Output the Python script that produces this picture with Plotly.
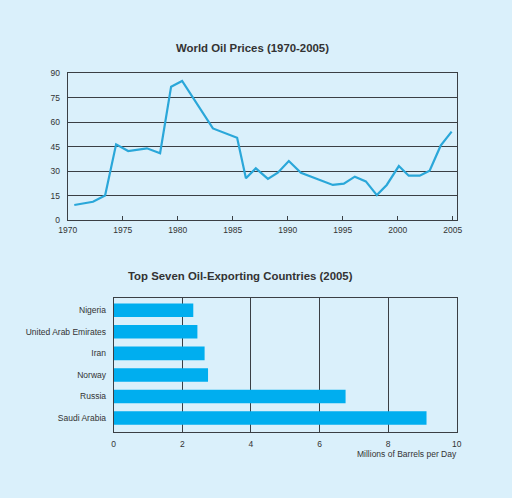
import plotly.graph_objects as go

# World oil prices
anos = [1970.6, 1972.3, 1973.4, 1974.4, 1975.5, 1977.2, 1978.4, 1979.4, 1980.4,
        1983.2, 1985.4, 1986.2, 1987.1, 1988.2, 1989.1, 1990.1, 1991.2, 1992.1,
        1993.2, 1994.1, 1995.1, 1996.1, 1997.1, 1998.1, 1999.0, 2000.1, 2001.0,
        2002.0, 2002.9, 2003.9, 2004.9]
precos = [9.2, 11.2, 15, 46.4, 42.3, 44, 41, 81.8, 85.3,
          56.2, 50.5, 25.6, 31.7, 25.2, 29, 36.2, 29, 26.8,
          23.8, 21.5, 22.3, 26.6, 23.7, 15.3, 21.5, 33.1, 27.2,
          27.2, 30.3, 45.6, 54.2]

# Top oil exporters, bottom to top
paises = ["Saudi Arabia", "Russia", "Norway", "Iran", "United Arab Emirates", "Nigeria"]
barris = [9.12, 6.76, 2.75, 2.65, 2.44, 2.32]

fundo = "#daf0fb"
cinza = "#3a3f44"
texto = "#333333"
fonte = "Liberation Sans, Arial, sans-serif"

fig = go.Figure()

fig.add_trace(go.Scatter(x=anos, y=precos, mode="lines",
                         line=dict(color="#2aa7d9", width=2.2),
                         xaxis="x", yaxis="y", showlegend=False, hoverinfo="skip"))

fig.add_trace(go.Bar(x=barris, y=paises, orientation="h", width=0.63,
                     marker=dict(color="#00aeef", line=dict(width=0)),
                     xaxis="x2", yaxis="y2", showlegend=False, hoverinfo="skip"))

eixo = dict(showline=True, linecolor=cinza, linewidth=1, mirror=True,
            zeroline=False, automargin=False)

fig.update_layout(
    width=512, height=498,
    margin=dict(l=0, r=0, t=0, b=0),
    paper_bgcolor=fundo, plot_bgcolor=fundo,
    font=dict(family=fonte, size=8.5, color=texto),
    xaxis=dict(eixo, domain=[0.1322, 0.892], range=[1970, 2005.36],
               tickvals=list(range(1970, 2006, 5)), showgrid=False,
               ticks="inside", ticklen=4, tickcolor=cinza, ticklabelstandoff=2),
    yaxis=dict(eixo, domain=[0.5582, 0.8528], range=[0, 90], dtick=15,
               showgrid=True, gridcolor=cinza, gridwidth=1,
               ticks="", ticklabelstandoff=5),
    xaxis2=dict(eixo, domain=[0.2221, 0.892], range=[0, 10], dtick=2,
                anchor="y2", showgrid=True, gridcolor=cinza, gridwidth=1,
                ticks="", ticklabelstandoff=3),
    yaxis2=dict(eixo, domain=[0.1319, 0.4022], range=[-0.66, 5.58],
                anchor="x2", showgrid=False, ticks="", ticklabelstandoff=5),
    annotations=[
        dict(text="<b>World Oil Prices (1970-2005)</b>", x=0.494, y=1 - 47.7 / 498,
             xref="paper", yref="paper", xanchor="center", yanchor="middle",
             showarrow=False, font=dict(size=11.4, color=texto)),
        dict(text="<b>Top Seven Oil-Exporting Countries (2005)</b>", x=0.470,
             y=1 - 275.7 / 498, xref="paper", yref="paper",
             xanchor="center", yanchor="middle",
             showarrow=False, font=dict(size=11.4, color=texto)),
        dict(text="Millions of Barrels per Day", x=459 / 512, y=1 - 454 / 498,
             xref="paper", yref="paper", xanchor="right", yanchor="middle",
             showarrow=False, font=dict(size=8.5, color=texto)),
    ],
)

# a página tem margem padrão de 8px no body; remover para o gráfico ocupar a janela
fig.write_html("out.html", config={"displayModeBar": False},
               post_script="document.body.style.margin='0';")
